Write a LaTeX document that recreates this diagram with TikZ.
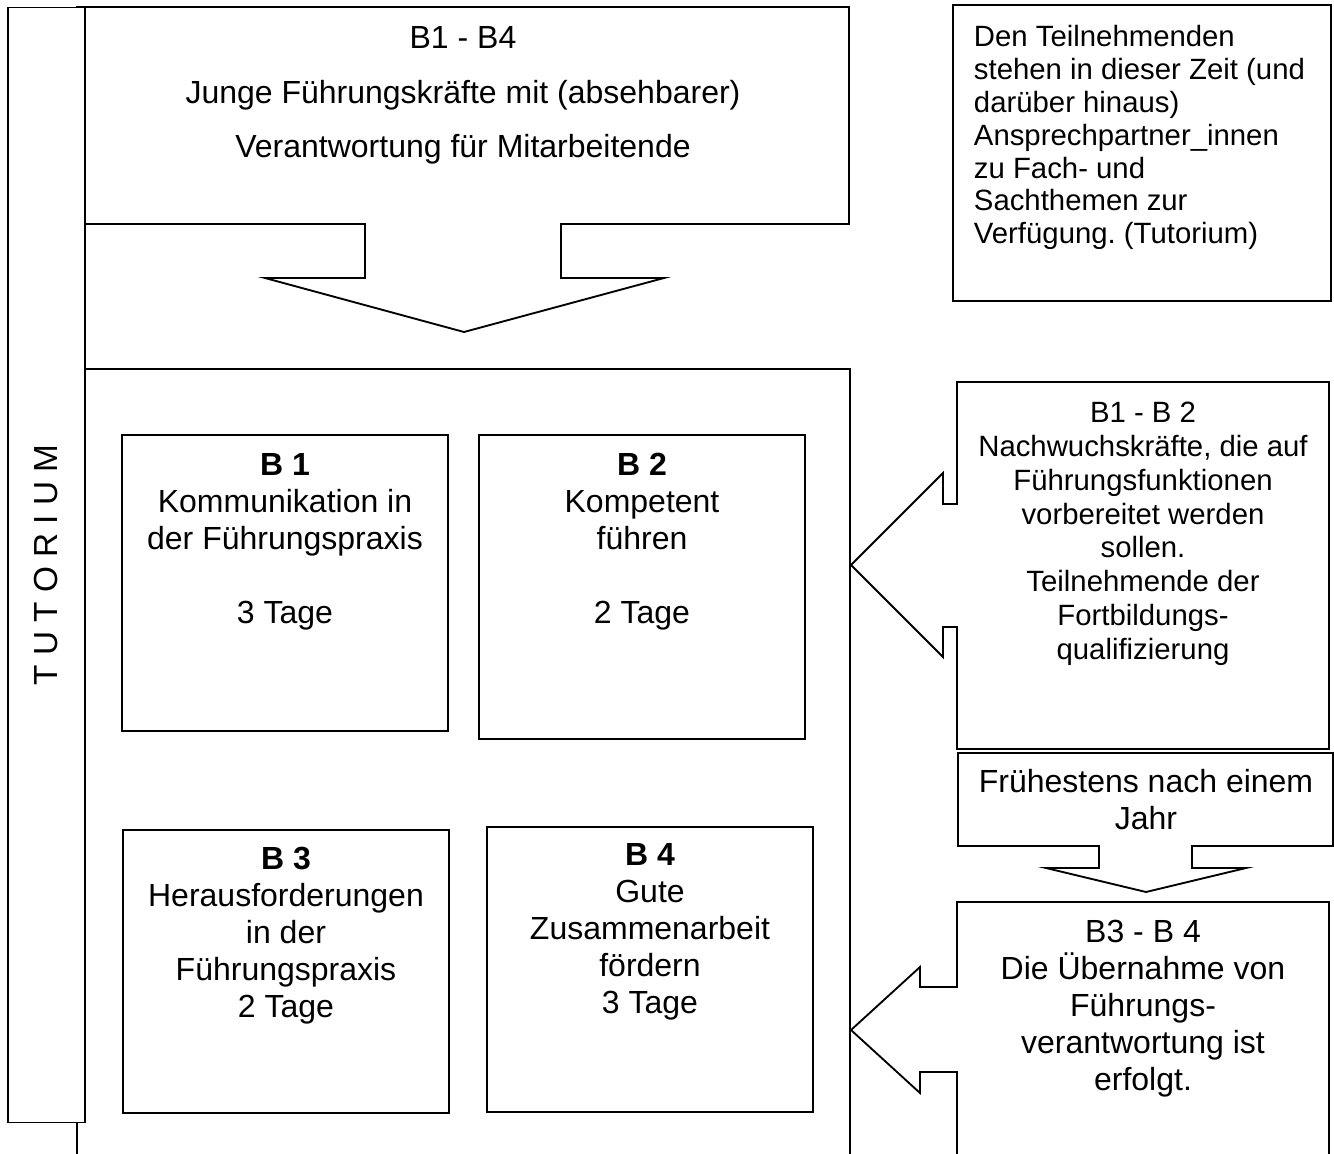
\documentclass[tikz,border=0pt]{standalone}
\usepackage{fontspec}
\setmainfont{Liberation Sans}
\frenchspacing
\newcommand{\topstrut}{\rule{0pt}{9pt}}

\begin{document}
\begin{tikzpicture}[x=0.375pt,y=-0.375pt,line width=0.7pt,line join=miter,
	frame/.style={draw,fill=white},
	modul/.style={draw,minimum width=122.25pt,inner sep=0pt},
	txt/.style={anchor=north,inner sep=0pt,align=center,font=\fontsize{12}{13.8}\selectfont},
	smalltxt/.style={txt,font=\fontsize{11}{12.65}\selectfont}]
	\useasboundingbox (0,0) rectangle (1334,1153);
	% Rahmen
	\draw (77,1170) -- (77,369) -- (850,369) -- (850,1170);
	\draw[frame] (77,7) -- (849,7) -- (849,224) -- (561,224) -- (561,278) -- (664,278) -- (464,332)
		-- (265,278) -- (365,278) -- (365,224) -- (77,224) -- cycle;
	\node[frame,rotate=90,minimum width=418.1pt,minimum height=28.875pt,inner sep=0pt,
		font=\fontsize{12.5}{14}\selectfont] (tutorium) at (46.5,565) {T U T O R I U M};
	\node[txt,font=\fontsize{12}{20.4}\selectfont] (zielgruppe) at (463,24)
		{\topstrut B1 - B4\\Junge Führungskräfte mit (absehbarer)\\Verantwortung für Mitarbeitende};
	% Module
	\node[modul,minimum height=111pt] (b1) at (285,583) {};
	\node[modul,minimum height=114pt] (b2) at (642,587) {};
	\node[modul,minimum height=106.1pt] (b3) at (286,971.5) {};
	\node[modul,minimum height=106.9pt] (b4) at (650,969.5) {};
	\node[txt] (b1text) at (285,451) {\topstrut\textbf{B 1}\\Kommunikation in\\der Führungspraxis\\[13.8pt]3 Tage};
	\node[txt] (b2text) at (642,451) {\topstrut\textbf{B 2}\\Kompetent\\führen\\[13.8pt]2 Tage};
	\node[txt] (b3text) at (286,845) {\topstrut\textbf{B 3}\\Herausforderungen\\in der\\Führungspraxis\\2 Tage};
	\node[txt] (b4text) at (650,841) {\topstrut\textbf{B 4}\\Gute\\Zusammenarbeit\\fördern\\3 Tage};
	% rechte Seite
	\node[draw,minimum width=141.75pt,minimum height=111pt] (hinweis) at (1142,153) {};
	\node[smalltxt,anchor=north west,align=left,font=\fontsize{11}{12.3}\selectfont] (hinweistext) at (973,22)
		{\topstrut Den Teilnehmenden\\stehen in dieser Zeit (und\\darüber hinaus)\\Ansprechpartner\_innen\\zu Fach- und\\Sachthemen zur\\Verfügung. (Tutorium)};
	\draw[frame] (957,382) -- (1329,382) -- (1329,749) -- (957,749) -- (957,627) -- (943,627) -- (943,657)
		-- (851,565) -- (943,473) -- (943,504) -- (957,504) -- cycle;
	\node[smalltxt] (nachwuchs) at (1143,398)
		{\topstrut B1 - B 2\\Nachwuchskräfte, die auf\\Führungsfunktionen\\vorbereitet werden\\sollen.\\Teilnehmende der\\Fortbildungs-\\qualifizierung};
	\draw[frame] (958,753) -- (1333,753) -- (1333,846) -- (1192,846) -- (1192,868) -- (1246,868) -- (1146,892)
		-- (1046,868) -- (1099,868) -- (1099,846) -- (958,846) -- cycle;
	\node[txt] (frist) at (1146,768) {\topstrut Frühestens nach einem\\Jahr};
	\draw[frame] (957,1170) -- (957,1072) -- (920,1072) -- (920,1093) -- (851,1030) -- (920,967) -- (920,987)
		-- (957,987) -- (957,902) -- (1329,902) -- (1329,1170);
	\node[txt] (uebernahme) at (1143,918)
		{\topstrut B3 - B 4\\Die Übernahme von\\Führungs-\\verantwortung ist\\erfolgt.};
\end{tikzpicture}
\end{document}
